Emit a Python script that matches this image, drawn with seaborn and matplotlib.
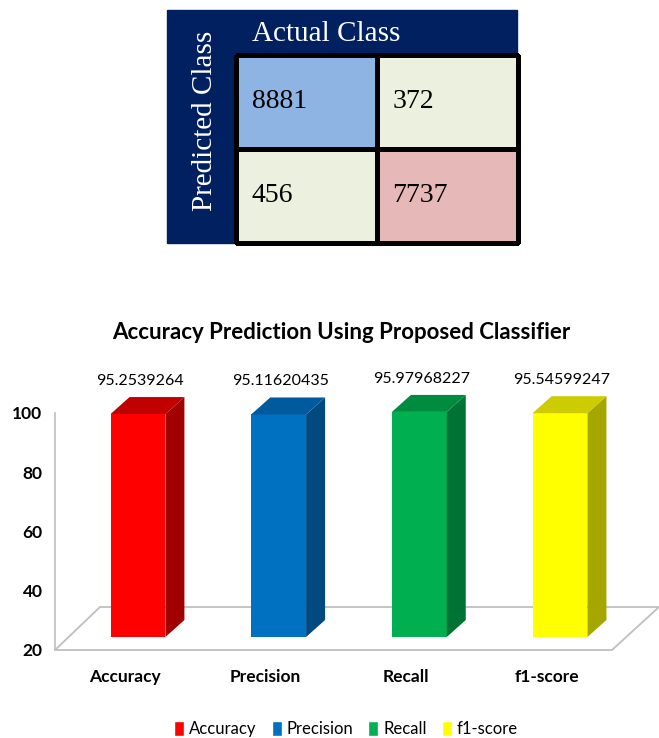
import numpy as np
import pandas as pd
import matplotlib
matplotlib.use("Agg")
import matplotlib.pyplot as plt
import seaborn as sns
from matplotlib.colors import ListedColormap, BoundaryNorm
from matplotlib.patches import Polygon, Rectangle, Patch
from matplotlib.transforms import ScaledTranslation

# confusion matrix
cm_values = [[8881, 372], [456, 7737]]
cm_col_title = "Actual Class"
cm_row_title = "Predicted Class"
cm_colors = ["#EBF1DE", "#E6B9B8", "#8EB4E3"]   # off-diagonal, class 2 hits, class 1 hits
cm_bounds = [0, 1000, 8000, 10000]

# classifier scores
metrics = ["Accuracy", "Precision", "Recall", "f1-score"]
scores = [95.2539264, 95.11620435, 95.97968227, 95.54599247]
score_text = ["95.2539264", "95.11620435", "95.97968227", "95.54599247"]
y_ticks = [20, 40, 60, 80, 100]
front_colors = ["#FF0000", "#0070C0", "#00B050", "#FFFF00"]
side_colors = ["#A00000", "#004A80", "#007233", "#A6A600"]
top_colors = ["#C00000", "#005A9E", "#008C3F", "#CCCC00"]

W, H, DPI = 659, 738, 100

sns.set_style("white")
plt.rcParams["font.family"] = ["Lato", "DejaVu Sans"]
plt.rcParams["text.color"] = "black"
plt.rcParams["xtick.color"] = "black"
plt.rcParams["ytick.color"] = "black"
SERIF = ["Liberation Serif", "DejaVu Serif"]

fig = plt.figure(figsize=(W / DPI, H / DPI), dpi=DPI)


def px_box(x0, y0, x1, y1):
    # pixel box (top-left origin) -> figure rect
    return [x0 / W, 1 - y1 / H, (x1 - x0) / W, (y1 - y0) / H]


# ---- confusion matrix ----
fig.add_artist(Rectangle((167 / W, 1 - 243 / H), 350 / W, 233 / H,
                         transform=fig.transFigure, color="#002060", zorder=0))

ax_cm = fig.add_axes(px_box(236, 55, 518, 243))
sns.heatmap(np.array(cm_values), ax=ax_cm, cmap=ListedColormap(cm_colors),
            norm=BoundaryNorm(cm_bounds, len(cm_colors)), cbar=False,
            linewidths=2.2, linecolor="black", xticklabels=False, yticklabels=False)
ax_cm.collections[0].set_clip_on(False)
for i, row in enumerate(cm_values):
    for j, v in enumerate(row):
        ax_cm.text(j + 0.11, i + 0.5, str(v), ha="left", va="center",
                   fontsize=20, family=SERIF, color="black")

fig.text(252 / W, 1 - 34 / H, cm_col_title, color="white", family=SERIF,
         fontsize=21, ha="left", va="center")
fig.text(205 / W, 1 - 121 / H, cm_row_title, color="white", family=SERIF,
         fontsize=21, ha="center", va="center", rotation=90)

# ---- pseudo 3D bar chart ----
ax = fig.add_axes(px_box(55, 413, 612, 650))
df = pd.DataFrame({"metric": metrics, "score": scores})
sns.barplot(data=df, x="metric", y="score", hue="metric", palette=front_colors,
            legend=False, width=0.39, saturation=1, ax=ax)

ax.set_ylim(20, 100)
ax.set_xlim(-0.4975, 3.462)
ax.set_yticks(y_ticks)
ax.set_xlabel("")
ax.set_ylabel("")
ax.patch.set_visible(False)
for s in ["top", "right", "bottom"]:
    ax.spines[s].set_visible(False)
ax.spines["left"].set_color("#BFBFBF")
ax.spines["left"].set_linewidth(1.2)
ax.tick_params(axis="y", length=0, pad=9, labelsize=12.5)
ax.tick_params(axis="x", length=0, pad=14, labelsize=12.5)
for t in ax.get_xticklabels() + ax.get_yticklabels():
    t.set_fontweight("bold")

# floor of the 3D box
ax_w, ax_h = 557, 237
floor = Polygon([(0, 0), (1, 0), (1 + 47 / ax_w, 43 / ax_h), (45 / ax_w, 43 / ax_h)],
                closed=True, transform=ax.transAxes, facecolor="white",
                edgecolor="#BFBFBF", lw=1.3, zorder=0.5, clip_on=False)
ax.add_patch(floor)

x0l, x1l = ax.get_xlim()
ux = (x1l - x0l) / ax_w
uy = 80 / ax_h
shift = ax.transData + ScaledTranslation(13 / DPI, 13 / DPI, fig.dpi_scale_trans)
ddx, ddy = 19 * ux, 17 * uy

for p in list(ax.patches):
    if p is floor:
        continue
    k = int(round(p.get_x() + p.get_width() / 2))
    p.set_y(20)
    p.set_height(scores[k] - 20)
    p.set_transform(shift)
    p.set_clip_on(False)
    p.set_edgecolor("none")
    p.set_zorder(2)
    bx0, bx1 = p.get_x(), p.get_x() + p.get_width()
    by0, by1 = 20, scores[k]
    side = Polygon([(bx1, by0), (bx1 + ddx, by0 + ddy), (bx1 + ddx, by1 + ddy), (bx1, by1)],
                   closed=True, transform=shift, facecolor=side_colors[k],
                   edgecolor="none", zorder=2, clip_on=False)
    top = Polygon([(bx0, by1), (bx1, by1), (bx1 + ddx, by1 + ddy), (bx0 + ddx, by1 + ddy)],
                  closed=True, transform=shift, facecolor=top_colors[k],
                  edgecolor="none", zorder=2, clip_on=False)
    ax.add_patch(side)
    ax.add_patch(top)
    ax.text(k, scores[k], score_text[k], ha="center", va="center", fontsize=11.5,
            transform=ax.transData + ScaledTranslation(15 / DPI, 46 / DPI, fig.dpi_scale_trans),
            clip_on=False)

fig.text(341 / W, 1 - 333 / H, "Accuracy Prediction Using Proposed Classifier",
         ha="center", va="center", fontsize=16, fontweight="bold")

handles = [Patch(facecolor=c, label=m) for c, m in zip(front_colors, metrics)]
fig.legend(handles=handles, loc="center", bbox_to_anchor=(346 / W, 1 - 729 / H), ncol=4,
           frameon=False, handlelength=0.6, handleheight=1.0, handletextpad=0.3,
           columnspacing=0.9, fontsize=12)

fig.savefig("out.png", dpi=DPI)
